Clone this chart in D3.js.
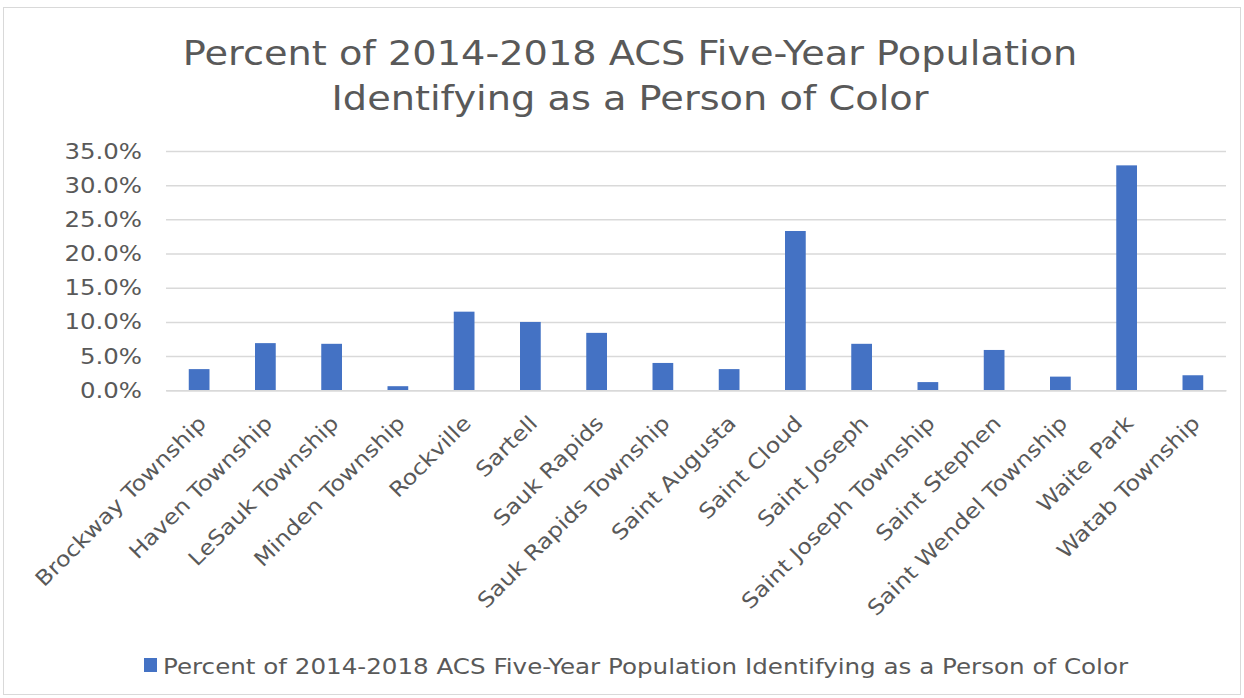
<!DOCTYPE html>
<html><head><meta charset="utf-8">
<script src="https://cdn.jsdelivr.net/npm/d3@7"></script>
<style>body{margin:0;background:#fff}svg{display:block}</style>
</head><body>
<script>
const categories = ["Brockway Township","Haven Township","LeSauk Township","Minden Township","Rockville","Sartell","Sauk Rapids","Sauk Rapids Township","Saint Augusta","Saint Cloud","Saint Joseph","Saint Joseph Township","Saint Stephen","Saint Wendel Township","Waite Park","Watab Township"];
const values = [0.031,0.069,0.068,0.006,0.115,0.100,0.084,0.040,0.031,0.233,0.068,0.012,0.059,0.020,0.329,0.022];
const yTicks = [0,0.05,0.10,0.15,0.20,0.25,0.30,0.35];
const seriesName = "Percent of 2014-2018 ACS Five-Year Population Identifying as a Person of Color";
const titleLines = ["Percent of 2014-2018 ACS Five-Year Population","Identifying as a Person of Color"];

const W=1244,H=698;
const font="Verdana, 'DejaVu Sans', sans-serif";
const svg=d3.select("body").append("svg").attr("width",W).attr("height",H);
svg.append("rect").attr("x",3.5).attr("y",7.5).attr("width",1237).attr("height",687).attr("fill","#fff").attr("stroke","#d9d9d9");

function stretch(sel,f){
  sel.each(function(){const L=this.getComputedTextLength();d3.select(this).attr("textLength",L*f).attr("lengthAdjust","spacingAndGlyphs");});
}

const m={l:166,r:1226,t:151,b:390.3};
const x=d3.scaleBand().domain(categories).range([m.l,m.r]).paddingInner(0.687).paddingOuter(0.3435);
const y=d3.scaleLinear().domain([0,0.35]).range([m.b,m.t]);

// title
const tt=svg.append("g");
titleLines.forEach((t,i)=>{
  tt.append("text").attr("x",630).attr("y",65+i*45).attr("text-anchor","middle")
    .attr("font-family",font).attr("font-size",33).attr("fill","#595959").text(t);
});
stretch(tt.selectAll("text"),1.16);

// gridlines
const ya=d3.axisLeft(y).tickValues(yTicks).tickSize(-(m.r-m.l)).tickFormat(d3.format(".1%"));
const gy=svg.append("g").attr("transform",`translate(${m.l},0)`).call(ya);
gy.select(".domain").remove();
gy.selectAll(".tick line").attr("stroke","#d9d9d9").attr("stroke-width",1.5);
gy.selectAll(".tick text").attr("x",-24).attr("font-family",font).attr("font-size",22).attr("fill","#595959");
stretch(gy.selectAll(".tick text"),1.11);

// bars
svg.append("g").selectAll("rect").data(values).join("rect")
  .attr("x",(d,i)=>x(categories[i])).attr("width",x.bandwidth())
  .attr("y",d=>y(d)).attr("height",d=>y(0)-y(d)).attr("fill","#4472c4");

// x labels
const xa=d3.axisBottom(x).tickSize(0).tickPadding(0);
const gx=svg.append("g").attr("transform",`translate(0,${m.b})`).call(xa);
gx.select(".domain").attr("stroke","#d9d9d9").attr("stroke-width",1.5);
gx.selectAll(".tick text").attr("font-family",font).attr("font-size",21).attr("fill","#595959")
  .attr("text-anchor","end").attr("dy","0.35em").attr("transform","translate(3,29) rotate(-45)");
stretch(gx.selectAll(".tick text"),1.13);

// legend
const lg=svg.append("g");
lg.append("rect").attr("x",144).attr("y",658).attr("width",13).attr("height",14).attr("fill","#4472c4");
lg.append("text").attr("x",163).attr("y",674).attr("font-family",font).attr("font-size",21).attr("fill","#595959").text(seriesName);
stretch(lg.selectAll("text"),1.17);
</script>
</body></html>
